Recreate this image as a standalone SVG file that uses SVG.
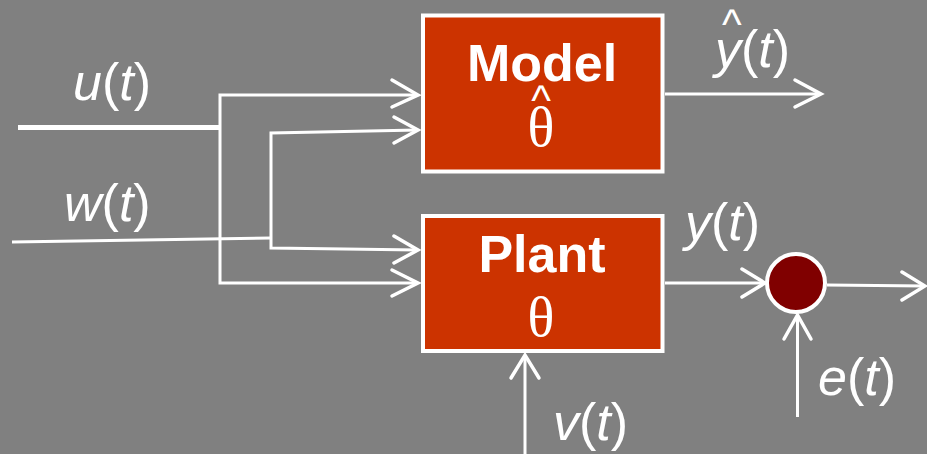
<svg xmlns="http://www.w3.org/2000/svg" width="927" height="454" viewBox="0 0 927 454">
  <defs>
    <style>
      .wire { fill: none; stroke: #ffffff; stroke-width: 3; stroke-linecap: butt; stroke-linejoin: miter; }
      .head { fill: none; stroke: #ffffff; stroke-width: 3.5; stroke-linecap: round; stroke-linejoin: miter; }
      .box { fill: #cc3300; stroke: #ffffff; stroke-width: 4; }
      .label { fill: #ffffff; text-anchor: middle; }
      .title { font-family: "Liberation Sans", Arial, sans-serif; font-weight: bold; font-size: 52px; }
      .theta { font-family: "Liberation Serif", "Times New Roman", serif; font-size: 56px; font-weight: normal; }
      .hat { font-family: "Liberation Sans", Arial, sans-serif; font-size: 42px; font-weight: normal; font-style: normal; }
      .sig { font-family: "Liberation Sans", Arial, sans-serif; font-size: 52px; fill: #ffffff; }
      .it { font-style: italic; }
    </style>
  </defs>

  <rect width="927" height="454" fill="#808080"/>

  <!-- connectors -->
  <g id="connectors">
    <!-- u(t) input, split to both blocks -->
    <line x1="18" y1="127.5" x2="221" y2="127.5" stroke="#ffffff" stroke-width="5"/>
    <polyline class="wire" points="418,95 220,95 220,283 418,283"/>
    <!-- w(t) input, split to both blocks -->
    <polyline class="wire" points="12,242 271,238"/>
    <polyline class="wire" points="418,130 271,133 271,248 418,250"/>
    <!-- arrowheads into Model -->
    <polyline class="head" points="392,80 418,95 392,107"/>
    <polyline class="head" points="394,117 418,130 394,143"/>
    <!-- arrowheads into Plant -->
    <polyline class="head" points="394,236 418,250 394,263"/>
    <polyline class="head" points="392,270 418,283 392,296"/>
    <!-- model output y-hat -->
    <line class="wire" x1="665" y1="94" x2="821" y2="94"/>
    <polyline class="head" points="795,80 821,94 795,107"/>
    <!-- plant output y to junction -->
    <line class="wire" x1="665" y1="283" x2="765" y2="283"/>
    <polyline class="head" points="742,269 765,283 742,297"/>
    <!-- junction output -->
    <line class="wire" x1="827" y1="285" x2="925" y2="286"/>
    <polyline class="head" points="902,272 925,286 902,300"/>
    <!-- e(t) into junction -->
    <line class="wire" x1="797.5" y1="417" x2="797.5" y2="315"/>
    <polyline class="head" points="784,339 797.5,315 811,339"/>
    <!-- v(t) into plant -->
    <line class="wire" x1="525" y1="454" x2="525" y2="355"/>
    <polyline class="head" points="511,378 525,355 539,378"/>
  </g>

  <g id="model">
    <rect class="box" x="423" y="15.5" width="239.5" height="156"/>
    <text class="label"><tspan class="title" x="542" y="81">Model</tspan><tspan class="hat" x="541" y="115">^</tspan><tspan class="theta" x="541" y="146">θ</tspan></text>
  </g>

  <g id="plant">
    <rect class="box" x="423" y="216" width="239.5" height="135"/>
    <text class="label"><tspan class="title" x="542" y="272">Plant</tspan><tspan class="theta" x="541" y="336">θ</tspan></text>
  </g>

  <g id="junction">
    <circle cx="796" cy="283" r="29" fill="#800000" stroke="#ffffff" stroke-width="4"/>
  </g>

  <g id="labels">
    <text class="sig" x="73" y="100"><tspan class="it">u</tspan>(<tspan class="it">t</tspan>)</text>
    <text class="sig" x="64" y="221"><tspan class="it">w</tspan>(<tspan class="it">t</tspan>)</text>
    <text class="sig"><tspan class="hat" x="722" y="39">^</tspan><tspan class="it" x="715" y="67">y</tspan>(<tspan class="it">t</tspan>)</text>
    <text class="sig" x="685" y="240"><tspan class="it">y</tspan>(<tspan class="it">t</tspan>)</text>
    <text class="sig" x="818" y="395"><tspan class="it">e</tspan>(<tspan class="it">t</tspan>)</text>
    <text class="sig" x="553" y="440"><tspan class="it">v</tspan>(<tspan class="it">t</tspan>)</text>
  </g>
</svg>
